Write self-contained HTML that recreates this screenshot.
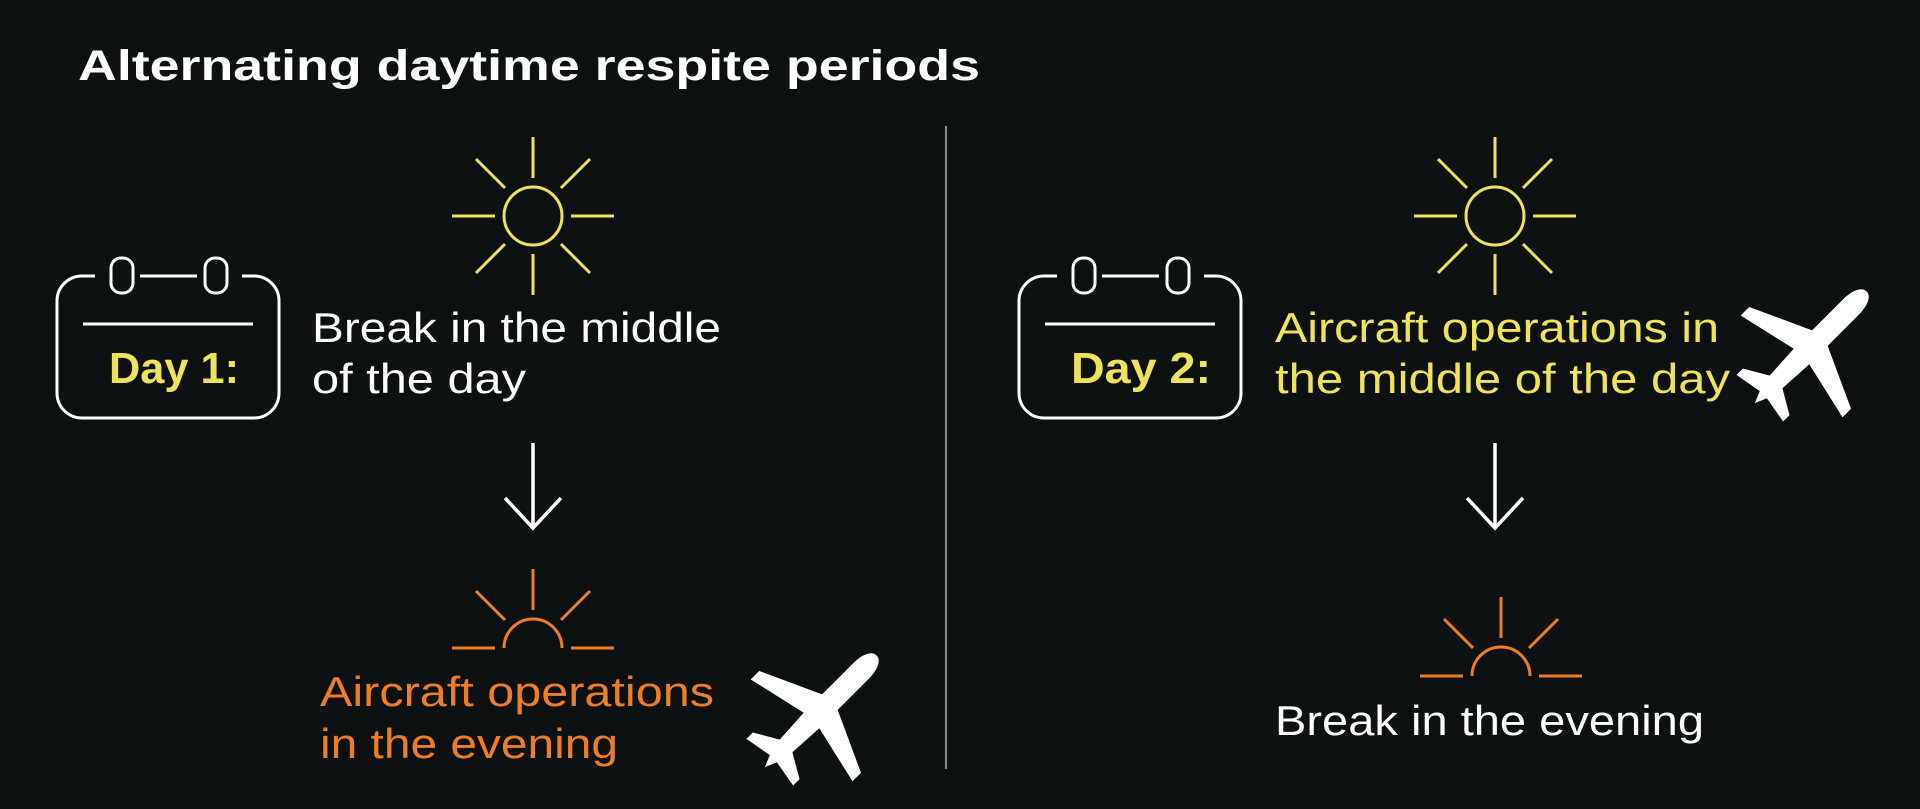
<!DOCTYPE html>
<html><head><meta charset="utf-8"><style>
html,body{margin:0;padding:0;background:#0e1112;}
svg{display:block;}
text{font-family:"Liberation Sans",sans-serif;}
</style></head><body>
<svg width="1920" height="809" viewBox="0 0 1920 809" xmlns="http://www.w3.org/2000/svg">
<rect width="1920" height="809" fill="#0e1112"/>
<defs>
<g id="sun" fill="none" stroke="#eee35a" stroke-width="3">
<circle cx="0" cy="0" r="29"/>
<line x1="0" y1="-38" x2="0" y2="-79"/><line x1="0" y1="38" x2="0" y2="79"/>
<line x1="-38" y1="0" x2="-81" y2="0"/><line x1="38" y1="0" x2="81" y2="0"/>
<line x1="-28" y1="-28" x2="-57" y2="-57"/><line x1="28" y1="-28" x2="57" y2="-57"/>
<line x1="-28" y1="28" x2="-57" y2="57"/><line x1="28" y1="28" x2="57" y2="57"/>
</g>
<g id="sunset" fill="none" stroke="#ee7d24" stroke-width="3">
<path d="M-29,0 A29,29 0 0 1 29,0"/>
<line x1="0" y1="-38" x2="0" y2="-79"/>
<line x1="-28" y1="-28" x2="-57" y2="-57"/><line x1="28" y1="-28" x2="57" y2="-57"/>
<line x1="-38" y1="0" x2="-81" y2="0"/><line x1="38" y1="0" x2="81" y2="0"/>
</g>
<g id="cal" fill="none" stroke="#ffffff" stroke-width="3">
<path d="M95,276 L82,276 A25,25 0 0 0 57,301 L57,393 A25,25 0 0 0 82,418 L254,418 A25,25 0 0 0 279,393 L279,301 A25,25 0 0 0 254,276 L242,276"/>
<rect x="111" y="258" width="22" height="35" rx="10"/>
<rect x="205" y="258" width="22" height="35" rx="10"/>
<line x1="140" y1="276" x2="197" y2="276"/>
<line x1="83" y1="324" x2="253" y2="324"/>
</g>
<g id="arrow" fill="none" stroke="#ffffff" stroke-width="3.5">
<line x1="0" y1="0" x2="0" y2="84"/>
<polyline points="-28,55 0,85 28,55"/>
</g>
<g id="plane" fill="#ffffff">
<path d="M0,-80 C8,-80 11,-68 11,-58 L11,-14 L72,14 L72,26 L11,12 L9,48 L33,62 L33,71 L5,66 L0,78 L-5,66 L-33,71 L-33,62 L-9,48 L-11,12 L-72,26 L-72,14 L-11,-14 L-11,-58 C-11,-68 -8,-80 0,-80Z"/>
<circle cx="28" cy="4" r="7"/><circle cx="-28" cy="4" r="7"/>
</g>
</defs>

<text x="78" y="80" font-size="43" font-weight="bold" fill="#ffffff" textLength="902" lengthAdjust="spacingAndGlyphs">Alternating daytime respite periods</text>

<line x1="946" y1="126" x2="946" y2="769" stroke="#8a8c8d" stroke-width="2"/>

<use href="#sun" x="533" y="216"/>
<use href="#cal"/>
<text x="109" y="383" font-size="44" font-weight="bold" fill="#eee35a" textLength="130" lengthAdjust="spacingAndGlyphs">Day 1:</text>
<text x="312" y="342" font-size="42" fill="#ffffff" textLength="409" lengthAdjust="spacingAndGlyphs">Break in the middle</text>
<text x="312" y="393" font-size="42" fill="#ffffff" textLength="214" lengthAdjust="spacingAndGlyphs">of the day</text>
<use href="#arrow" x="533" y="443"/>
<use href="#sunset" x="533" y="648"/>
<text x="320" y="706" font-size="42" fill="#ee7d24" textLength="394" lengthAdjust="spacingAndGlyphs">Aircraft operations</text>
<text x="320" y="758" font-size="42" fill="#ee7d24" textLength="298" lengthAdjust="spacingAndGlyphs">in the evening</text>
<g transform="translate(820,712) rotate(45)"><use href="#plane"/></g>

<use href="#sun" x="1495" y="216"/>
<use href="#cal" x="962"/>
<text x="1071" y="383" font-size="44" font-weight="bold" fill="#eee35a" textLength="140" lengthAdjust="spacingAndGlyphs">Day 2:</text>
<text x="1275" y="342" font-size="42" fill="#eee35a" textLength="444" lengthAdjust="spacingAndGlyphs">Aircraft operations in</text>
<text x="1275" y="393" font-size="42" fill="#eee35a" textLength="455" lengthAdjust="spacingAndGlyphs">the middle of the day</text>
<g transform="translate(1810,348) rotate(45)"><use href="#plane"/></g>
<use href="#arrow" x="1495" y="443"/>
<use href="#sunset" x="1501" y="676"/>
<text x="1275" y="735" font-size="42" fill="#ffffff" textLength="429" lengthAdjust="spacingAndGlyphs">Break in the evening</text>
</svg>
</body></html>
